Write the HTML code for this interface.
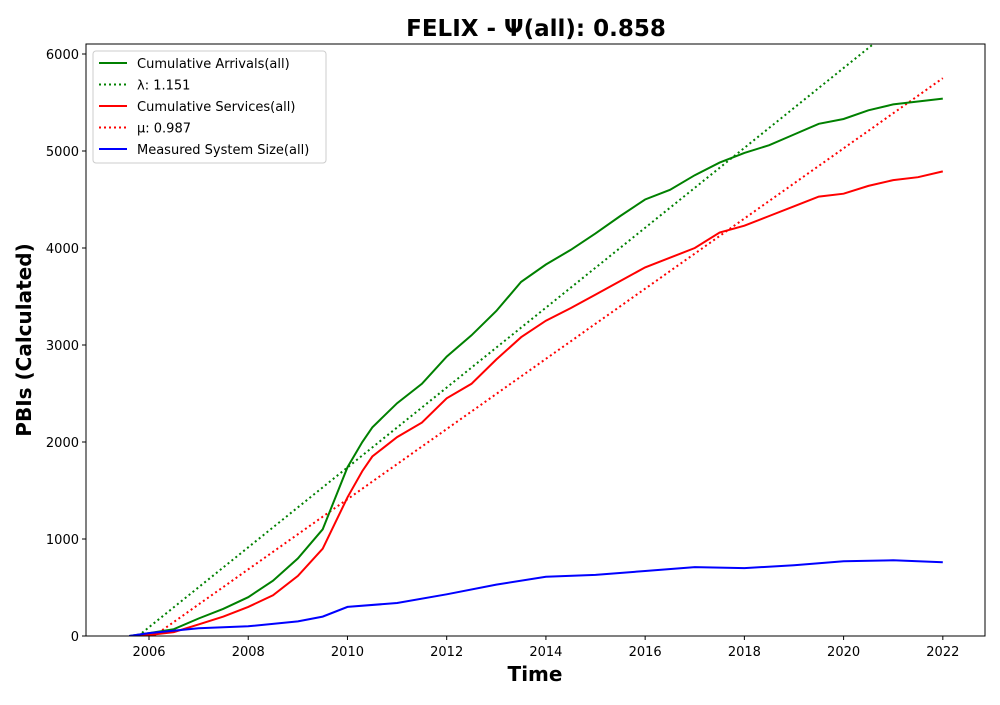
<!DOCTYPE html>
<html><head><meta charset="utf-8"><style>
body{margin:0;background:#fff;font-family:"Liberation Sans","DejaVu Sans",sans-serif}
</style></head><body>
<svg id="chart" width="1000" height="700" xmlns="http://www.w3.org/2000/svg">
<rect width="1000" height="700" fill="#fff"/>
<text x="536" y="36" text-anchor="middle" font-size="23" font-weight="bold" font-family="DejaVu Sans, sans-serif">FELIX -  Ψ(all): 0.858</text>
<g id="plot"></g>
<text x="535" y="681" text-anchor="middle" font-size="20" font-weight="bold" font-family="DejaVu Sans, sans-serif">Time</text>
<text transform="translate(31,340) rotate(-90)" text-anchor="middle" font-size="20" font-weight="bold" font-family="DejaVu Sans, sans-serif">PBIs (Calculated)</text>
</svg>
<script>
const arrYears=[2005.6,2006,2006.5,2007,2007.5,2008,2008.5,2009,2009.5,2010,2010.3,2010.5,2011,2011.5,2012,2012.5,2013,2013.5,2014,2014.5,2015,2015.5,2016,2016.5,2017,2017.5,2018,2018.5,2019,2019.5,2020,2020.5,2021,2021.5,2022];
const arrivals=[0,30,70,180,280,400,570,800,1100,1740,2000,2150,2400,2600,2880,3100,3350,3650,3830,3980,4150,4330,4500,4600,4750,4880,4980,5060,5170,5280,5330,5420,5480,5510,5540];
const srvYears=[2005.8,2006,2006.5,2007,2007.5,2008,2008.5,2009,2009.5,2010,2010.3,2010.5,2011,2011.5,2012,2012.5,2013,2013.5,2014,2014.5,2015,2015.5,2016,2016.5,2017,2017.5,2018,2018.5,2019,2019.5,2020,2020.5,2021,2021.5,2022];
const services=[0,10,40,120,200,300,420,620,900,1430,1700,1850,2050,2200,2450,2600,2850,3080,3250,3380,3520,3660,3800,3900,4000,4160,4230,4330,4430,4530,4560,4640,4700,4730,4790];
const sizeYears=[2005.6,2006,2007,2008,2009,2009.5,2010,2011,2012,2013,2014,2015,2016,2017,2018,2019,2020,2021,2022];
const systemSize=[0,30,80,100,150,200,300,340,430,530,610,630,670,710,700,730,770,780,760];
const lambdaLine=[[2005.78,0],[2020.6,6103]];
const muLine=[[2006.1,0],[2022,5750]];
const xTicks=[2006,2008,2010,2012,2014,2016,2018,2020,2022];
const yTicks=[0,1000,2000,3000,4000,5000,6000];
const L=86,R=985,T=44,B=636,X0=2004.73,X1=2022.85,Y0=0,Y1=6103;
const sx=v=>L+(v-X0)/(X1-X0)*(R-L), sy=v=>B-(v-Y0)/(Y1-Y0)*(B-T);
const NS="http://www.w3.org/2000/svg",g=document.getElementById('plot');
function mk(t,a){const e=document.createElementNS(NS,t);for(const k in a)e.setAttribute(k,a[k]);g.appendChild(e);return e;}
const clip=document.createElementNS(NS,'clipPath');clip.id='c';const cr=document.createElementNS(NS,'rect');
cr.setAttribute('x',L);cr.setAttribute('y',T);cr.setAttribute('width',R-L);cr.setAttribute('height',B-T);clip.appendChild(cr);g.appendChild(clip);
function line(xs,ys,color,dash,name){const d=xs.map((x,i)=>(i?'L':'M')+sx(x).toFixed(1)+' '+sy(ys[i]).toFixed(1)).join('');
const p=mk('path',{d:d,fill:'none',stroke:color,'stroke-width':2,'clip-path':'url(#c)'});if(dash)p.setAttribute('stroke-dasharray',dash);

}
line(lambdaLine.map(p=>p[0]),lambdaLine.map(p=>p[1]),'green','2 3','lambda-line');
line(muLine.map(p=>p[0]),muLine.map(p=>p[1]),'red','2 3','mu-line');
line(arrYears,arrivals,'green',null,'cumulative-arrivals-line');
line(srvYears,services,'red',null,'cumulative-services-line');
line(sizeYears,systemSize,'blue',null,'system-size-line');
mk('rect',{x:L,y:T,width:R-L,height:B-T,fill:'none',stroke:'#000','stroke-width':1});
xTicks.forEach(v=>{mk('line',{x1:sx(v),x2:sx(v),y1:B,y2:B+4,stroke:'#000'});
const t=mk('text',{x:sx(v),y:B+20,'text-anchor':'middle','font-size':13,'font-family':'DejaVu Sans, sans-serif'});t.textContent=v;

});
yTicks.forEach(v=>{mk('line',{x1:L-4,x2:L,y1:sy(v),y2:sy(v),stroke:'#000'});
const t=mk('text',{x:L-7,y:sy(v)+5,'text-anchor':'end','font-size':13,'font-family':'DejaVu Sans, sans-serif'});t.textContent=v;

});
const lg=mk('rect',{x:93,y:51,width:233,height:112,fill:'#fff',stroke:'#ccc',rx:3});


const items=[['Cumulative Arrivals(all)','green',null],['λ: 1.151','green','2 3'],['Cumulative Services(all)','red',null],['μ: 0.987','red','2 3'],['Measured System Size(all)','blue',null]];
items.forEach((it,i)=>{const y=63+i*21.5;const l=mk('line',{x1:99,x2:127,y1:y,y2:y,stroke:it[1],'stroke-width':2});if(it[2])l.setAttribute('stroke-dasharray',it[2]);
const t=mk('text',{x:137,y:y+5,'font-size':13,'font-family':'DejaVu Sans, sans-serif'});t.textContent=it[0];

});
</script>
</body></html>
